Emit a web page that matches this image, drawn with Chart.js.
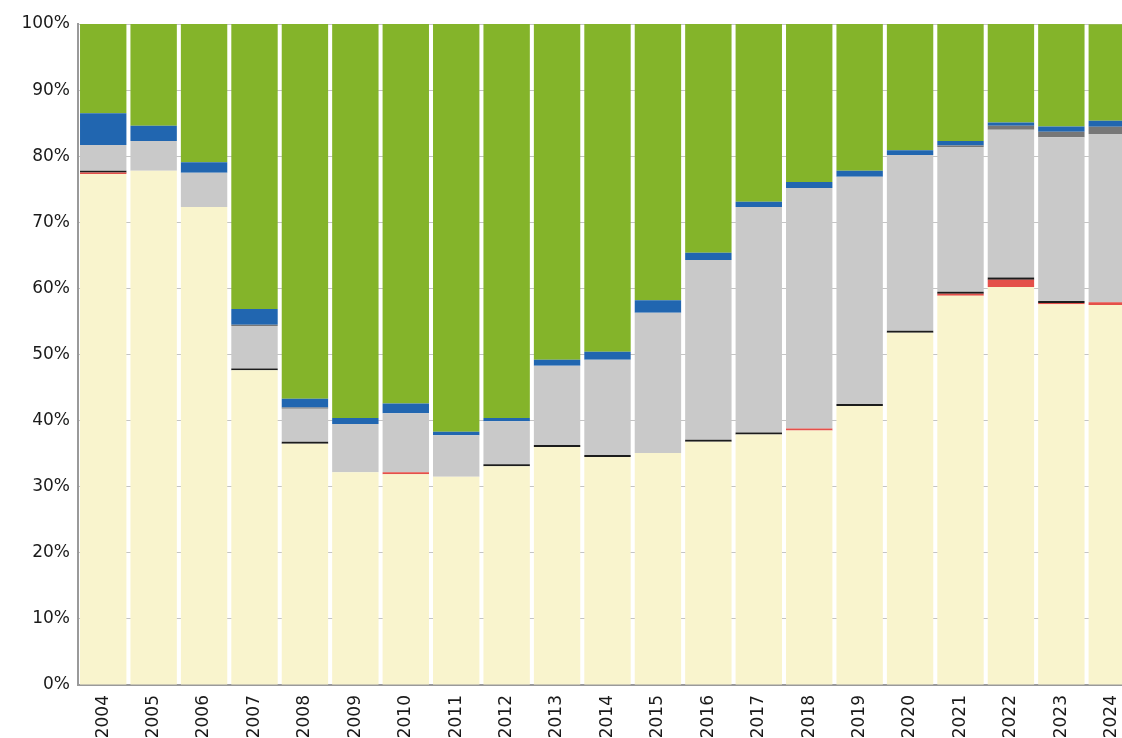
<!DOCTYPE html>
<html>
<head>
<meta charset="utf-8">
<script src="https://cdn.jsdelivr.net/npm/chart.js@4/dist/chart.umd.min.js"></script>
<style>
  html, body { margin: 0; padding: 0; background: #fff; overflow: hidden; }
  #wrap { position: absolute; left: 0; top: 0; width: 1137px; height: 738px; }
</style>
</head>
<body>
<div id="wrap"><canvas id="myChart"></canvas></div>
<script>
// years on the x axis
const years = ["2004","2005","2006","2007","2008","2009","2010","2011","2012","2013","2014",
  "2015","2016","2017","2018","2019","2020","2021","2022","2023","2024"];

// share of each segment per year, in % (bottom to top)
const cream = [77.3, 77.8, 72.3, 47.6, 36.5, 32.2, 31.9, 31.5, 33.1, 36.0, 34.5,
  35.1, 36.8, 37.9, 38.5, 42.2, 53.3, 58.9, 60.2, 57.6, 57.5];
const red = [0.25, 0, 0, 0, 0, 0, 0.3, 0, 0, 0, 0,
  0, 0, 0, 0.3, 0, 0, 0.3, 1.1, 0.2, 0.4];
const black = [0.25, 0, 0, 0.3, 0.3, 0, 0, 0, 0.3, 0.3, 0.3,
  0, 0.3, 0.3, 0, 0.3, 0.3, 0.3, 0.35, 0.3, 0];
const lightGray = [3.9, 4.5, 5.2, 6.4, 5.0, 7.3, 8.9, 6.3, 6.5, 12.0, 14.4,
  21.2, 27.2, 34.1, 36.4, 34.4, 26.6, 21.9, 22.35, 24.75, 25.45];
const darkGray = [0, 0, 0, 0.2, 0.2, 0, 0, 0, 0, 0, 0,
  0, 0, 0, 0, 0, 0, 0.2, 0.6, 0.85, 1.1];
const blue = [4.8, 2.3, 1.6, 2.4, 1.3, 0.9, 1.5, 0.5, 0.5, 0.9, 1.2,
  1.9, 1.1, 0.8, 0.9, 0.9, 0.7, 0.7, 0.5, 0.8, 0.9];
const green = [13.5, 15.4, 20.9, 43.1, 56.7, 59.6, 57.4, 61.7, 59.6, 50.8, 49.6,
  41.8, 34.6, 26.9, 23.9, 22.2, 19.1, 17.7, 14.9, 15.5, 14.6];

const yTicks = [0, 10, 20, 30, 40, 50, 60, 70, 80, 90, 100];

function serie(label, data, color) {
  return {
    label: label,
    data: data,
    backgroundColor: color,
    borderWidth: 0,
    barPercentage: 0.92,
    categoryPercentage: 1.0,
  };
}

const ctx = document.getElementById("myChart").getContext("2d");
new Chart(ctx, {
  type: "bar",
  data: {
    labels: years,
    datasets: [
      serie("cream", cream, "#f9f4cd"),
      serie("red", red, "#e4504a"),
      serie("black", black, "#1c1c1c"),
      serie("lightGray", lightGray, "#c9c9c9"),
      serie("darkGray", darkGray, "#777777"),
      serie("blue", blue, "#2166b0"),
      serie("green", green, "#84b42a"),
    ],
  },
  options: {
    responsive: true,
    maintainAspectRatio: false,
    animation: false,
    layout: { padding: { top: 24, right: 0, left: 0, bottom: 0 } },
    plugins: {
      legend: { display: false },
      tooltip: { enabled: false },
    },
    scales: {
      x: {
        stacked: true,
        grid: { display: false },
        border: { display: true, color: "#9a9a9a", width: 2 },
        ticks: {
          color: "#1a1a1a",
          font: { family: "DejaVu Sans", size: 17 },
          minRotation: 90,
          maxRotation: 90,
          padding: 2,
          autoSkip: false,
        },
        afterFit: (scale) => { scale.height = 53; },
      },
      y: {
        stacked: true,
        min: 0,
        max: 100,
        afterBuildTicks: (scale) => {
          scale.ticks = yTicks.map((v) => ({ value: v }));
        },
        grid: { color: "#c4c4c4", lineWidth: 1, drawTicks: false },
        border: { display: true, color: "#9a9a9a", width: 2 },
        ticks: {
          color: "#1a1a1a",
          font: { family: "DejaVu Sans", size: 17 },
          padding: 8,
          callback: (v) => v + "%",
        },
        afterFit: (scale) => { scale.width = 78; },
      },
    },
  },
});
</script>
</body>
</html>
